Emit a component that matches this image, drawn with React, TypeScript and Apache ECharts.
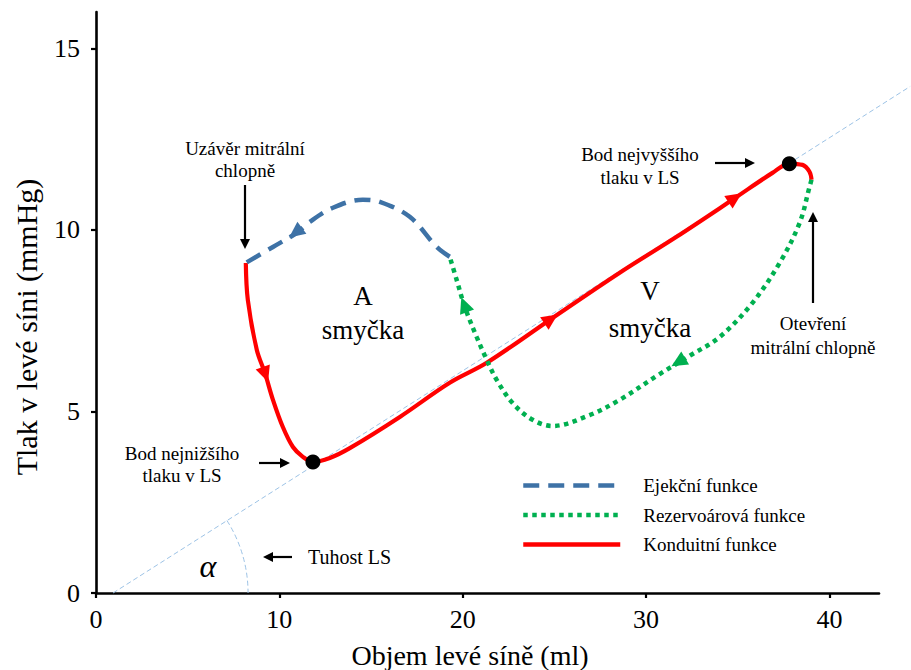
import React, { useEffect, useRef } from "react";
import * as echarts from "echarts";

const FONT = "Liberation Serif, Times New Roman, serif";

const X_TICKS = [0, 10, 20, 30, 40];
const Y_TICKS = [0, 5, 10, 15];
const X_MAX = 42.7;
const Y_MAX = 16;

const SERIES_NAMES = ["Ejekční funkce", "Rezervoárová funkce", "Konduitní funkce"];

// Conduit function (red, solid)
const conduit = [
  [8.17, 9.09], [8.28, 8.07], [8.77, 6.69], [9.21, 6.06], [9.65, 5.32], [10.19, 4.57],
  [10.74, 4.02], [11.28, 3.75], [11.83, 3.61], [12.75, 3.72], [13.84, 3.99], [16.57, 4.85],
  [19.29, 5.79], [21.31, 6.34], [24.74, 7.52], [28.56, 8.82], [31.66, 9.81], [34.71, 10.83],
  [36.89, 11.57], [37.81, 11.82], [38.53, 11.79], [38.91, 11.6], [39.02, 11.38],
];

// Reservoir function (green, dotted)
const reservoir = [
  [39.02, 11.38], [38.91, 11.18], [38.37, 10.19], [37.28, 9.09], [35.8, 7.99], [34.01, 7.05],
  [32.37, 6.53], [30.74, 6.03], [28.56, 5.32], [26.92, 4.9], [24.9, 4.6], [23.81, 4.77],
  [22.72, 5.23], [21.85, 5.87], [21.31, 6.42], [20.76, 7.05], [20.11, 7.88], [19.67, 8.62],
  [19.29, 9.26],
];

// Ejection function (blue, dashed)
const ejection = [
  [19.29, 9.26], [18.58, 9.53], [17.11, 10.36], [15.48, 10.77], [14.55, 10.83], [12.92, 10.61],
  [11.66, 10.22], [10.95, 9.92], [9.65, 9.53], [8.17, 9.09],
];

// Stiffness reference line
const stiffness = [[0.93, 0], [44.4, 13.95]];

// Extreme points
const lowPoint = [11.83, 3.61];
const highPoint = [37.81, 11.82];

// Direction arrows: [x, y, fromX, fromY, colorIndex]
const arrows = [
  [9.21, 6.06, 8.77, 6.69, 2],
  [24.74, 7.52, 21.31, 6.34, 2],
  [34.78, 10.86, 31.66, 9.81, 2],
  [20.11, 7.9, 20.76, 7.05, 1],
  [31.83, 6.38, 34.01, 7.05, 1],
  [10.95, 9.95, 11.66, 10.22, 0],
];

const COLORS = ["#3E72A6", "#00B050", "#FF0000"];

function blackArrow(x1: number, y1: number, x2: number, y2: number) {
  const dx = x2 - x1, dy = y2 - y1;
  const len = Math.hypot(dx, dy) || 1;
  const ux = dx / len, uy = dy / len;
  const L = 10, W = 5;
  const bx = x2 - ux * L, by = y2 - uy * L;
  return [
    { type: "line", silent: true, shape: { x1, y1, x2: bx, y2: by }, style: { stroke: "#000", lineWidth: 2.2 } },
    {
      type: "polygon", silent: true,
      shape: { points: [[x2, y2], [bx - uy * W, by + ux * W], [bx + uy * W, by - ux * W]] },
      style: { fill: "#000" },
    },
  ];
}

function label(text: string, x: number, y: number, size: number, lineHeight: number, extra: any = {}) {
  return {
    type: "text", silent: true, x, y,
    style: {
      text, fill: "#000", fontSize: size, fontFamily: FONT, align: "center", verticalAlign: "middle",
      lineHeight, ...extra,
    },
  };
}

export default function App() {
  const ref = useRef<HTMLDivElement>(null);
  useEffect(() => {
    document.body.style.margin = "0";
    const chart = echarts.init(ref.current!, null, { renderer: "svg" });
    const lineCommon = {
      type: "line", symbol: "none", showSymbol: false, smooth: 0.35, silent: true,
      emphasis: { disabled: true },
    };
    const option: any = {
      animation: false,
      textStyle: { fontFamily: FONT },
      grid: { left: 96, right: 32, top: 12, bottom: 77, containLabel: false, outerBoundsMode: "none" },
      xAxis: {
        type: "value", min: 0, max: X_MAX, interval: 10,
        splitLine: { show: false },
        axisLine: { lineStyle: { color: "#000", width: 2.6 } },
        axisTick: { length: 5, lineStyle: { color: "#000", width: 2.2 }, customValues: X_TICKS },
        axisLabel: { customValues: X_TICKS, color: "#000", fontSize: 26, fontFamily: FONT, margin: 13 },
      },
      yAxis: {
        type: "value", min: 0, max: Y_MAX, interval: 5,
        splitLine: { show: false },
        axisLine: { show: true, lineStyle: { color: "#000", width: 2.6 } },
        axisTick: { show: true, length: 5, lineStyle: { color: "#000", width: 2.2 }, customValues: Y_TICKS },
        axisLabel: { customValues: Y_TICKS, color: "#000", fontSize: 26, fontFamily: FONT, margin: 16 },
      },
      legend: {
        data: SERIES_NAMES, orient: "vertical", left: 521, top: 476, padding: 0,
        itemWidth: 97, itemHeight: 14, itemGap: 10.5, selectedMode: false,
        itemStyle: { opacity: 0 },
        lineStyle: { width: 4.5 },
        textStyle: { color: "#000", fontSize: 19, fontFamily: FONT, padding: [0, 0, 0, 18] },
      },
      series: [
        {
          type: "custom", name: "stiffness", silent: true, z: 1, clip: false,
          data: [[stiffness[0][0], stiffness[0][1], stiffness[1][0], stiffness[1][1]]],
          renderItem: (params: any, api: any) => {
            const c = api.coord([api.value(0), api.value(1)]);
            const o = api.coord([api.value(2), api.value(3)]);
            const ang = Math.atan2(o[1] - c[1], o[0] - c[0]);
            const st = { stroke: "#9DC3E6", lineWidth: 1, lineDash: [5, 3], fill: null };
            return {
              type: "group",
              children: [
                { type: "line", shape: { x1: c[0], y1: c[1], x2: o[0], y2: o[1] }, style: st },
                {
                  type: "arc",
                  shape: { cx: c[0], cy: c[1], r: 135, startAngle: ang, endAngle: 0, clockwise: true },
                  style: st,
                },
              ],
            };
          },
        },
        {
          ...lineCommon, name: SERIES_NAMES[2], data: conduit, z: 3,
          itemStyle: { color: COLORS[2] },
          lineStyle: { color: COLORS[2], width: 4.2, type: "solid" },
        },
        {
          ...lineCommon, name: SERIES_NAMES[1], data: reservoir, z: 4,
          itemStyle: { color: COLORS[1] },
          lineStyle: { color: COLORS[1], width: 4.5, type: [4.5, 4.5], cap: "butt" },
        },
        {
          ...lineCommon, name: SERIES_NAMES[0], data: ejection, z: 4,
          itemStyle: { color: COLORS[0] },
          lineStyle: { color: COLORS[0], width: 4.5, type: [16, 9], cap: "butt" },
        },
        {
          type: "custom", name: "arrows", silent: true, z: 5,
          data: arrows,
          renderItem: (params: any, api: any) => {
            const p = api.coord([api.value(0), api.value(1)]);
            const q = api.coord([api.value(2), api.value(3)]);
            const dx = p[0] - q[0], dy = p[1] - q[1];
            const len = Math.hypot(dx, dy) || 1;
            const ux = dx / len, uy = dy / len;
            const L = 16, W = 7.5;
            const tip = [p[0] + ux * L * 0.6, p[1] + uy * L * 0.6];
            const b = [p[0] - ux * L * 0.4, p[1] - uy * L * 0.4];
            return {
              type: "polygon",
              shape: { points: [tip, [b[0] - uy * W, b[1] + ux * W], [b[0] + uy * W, b[1] - ux * W]] },
              style: { fill: COLORS[api.value(4)] },
            };
          },
        },
        {
          type: "scatter", name: "points", silent: true, z: 6,
          data: [lowPoint, highPoint], symbolSize: 15,
          itemStyle: { color: "#000", opacity: 1 },
        },
      ],
      graphic: [
        {
          type: "text", silent: true, x: 26, y: 327, rotation: Math.PI / 2,
          style: {
            text: "Tlak v levé síni (mmHg)", fill: "#000", fontSize: 30, fontFamily: FONT,
            align: "center", verticalAlign: "middle",
          },
        },
        label("Objem levé síně (ml)", 470, 655, 28, 30),
        label("Uzávěr mitrální\nchlopně", 245, 159, 19, 22),
        label("A\nsmyčka", 363, 313, 27, 34),
        label("V\nsmyčka", 650, 309, 27, 37),
        label("Bod nejvyššího\ntlaku v LS", 640, 166, 19, 23),
        label("Otevření\nmitrální chlopně", 813, 335, 19, 24),
        label("Bod nejnižšího\ntlaku v LS", 182, 464, 19, 22),
        label("Tuhost LS", 308, 557, 20, 22, { align: "left" }),
        label("α", 208, 566, 32, 32, { fontStyle: "italic" }),
        ...blackArrow(245, 185, 245, 249),
        ...blackArrow(715, 163, 755, 163),
        ...blackArrow(813, 303, 813, 212),
        ...blackArrow(259, 463, 290, 463),
        ...blackArrow(292, 557, 263, 557),
      ],
    };
    chart.setOption(option);
    return () => chart.dispose();
  }, []);
  return <div ref={ref} style={{ width: 911, height: 670 }} />;
}
